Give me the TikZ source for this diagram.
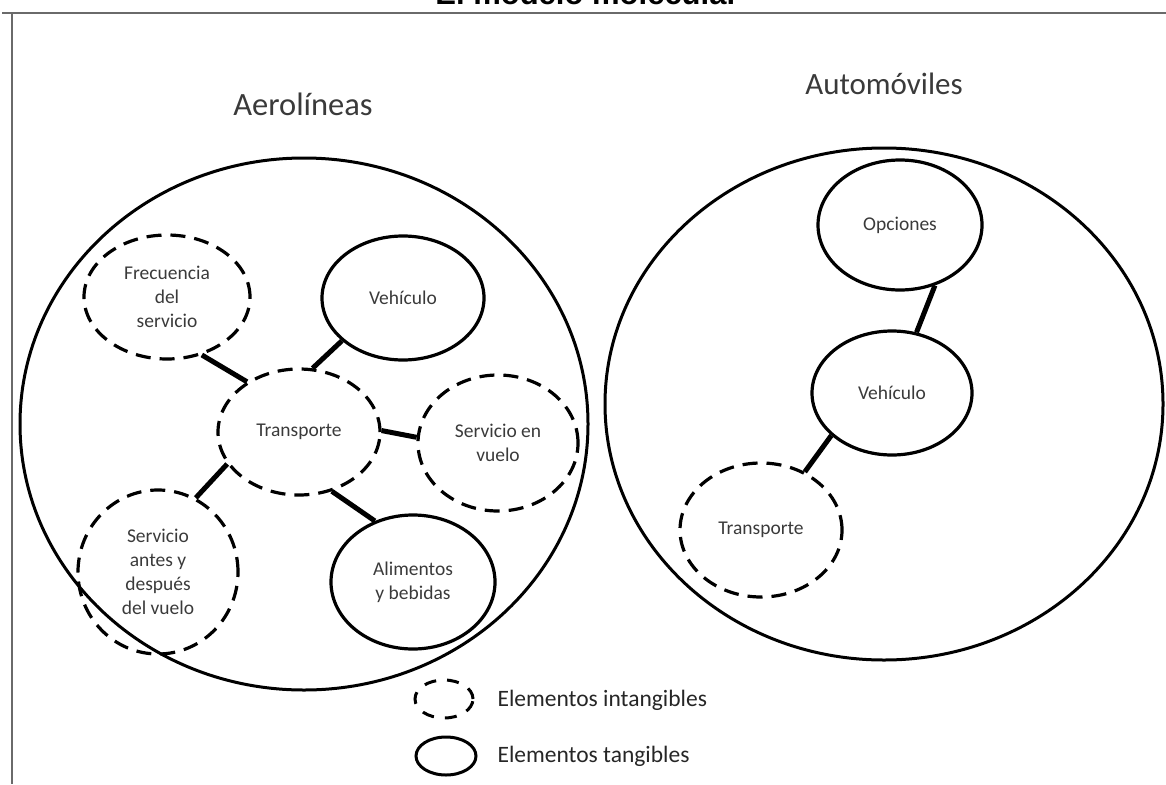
\documentclass[tikz,border=0pt]{standalone}
\usepackage{fontspec}
\setmainfont{Carlito}
\newfontfamily\titlefont{Liberation Sans}
\usetikzlibrary{shapes.geometric}
\definecolor{txtgray}{HTML}{3A3A3A}
\definecolor{framegray}{HTML}{6A6A6A}
\begin{document}
\begin{tikzpicture}[x=1pt,y=-1pt,
  bigcircle/.style={draw, ellipse, line width=3pt, inner sep=0pt},
  tang/.style={draw, ellipse, line width=3.2pt, inner sep=0pt, align=center,
    text=txtgray, font=\fontsize{19.5}{24}\selectfont},
  intang/.style={tang, dash pattern=on 15pt off 9pt},
  link/.style={line width=5pt},
  grouplabel/.style={text=txtgray, font=\fontsize{31}{36}\selectfont},
  legendtext/.style={text=black!85, font=\fontsize{23.5}{28}\selectfont, anchor=west},
  framel/.style={draw=framegray, line width=2pt}
]
\useasboundingbox (0,0) rectangle (1166,784);
\clip (0,0) rectangle (1166,784);
% title (cut off at top)
\node[anchor=base, font=\titlefont\bfseries\fontsize{31}{36}\selectfont] (title) at (587,5) {El modelo molecular};
% frame
\coordinate (fTL) at (11.5,13);
\coordinate (fL) at (2,13);
\coordinate (fR) at (1166,13);
\coordinate (fB) at (11.5,784);
\draw[framel] (fL) -- (fR);
\draw[framel] (fTL) -- (fB);

% big circles
\node[bigcircle, minimum width=568pt, minimum height=532pt] (air) at (304,424) {};
\node[bigcircle, minimum width=558pt, minimum height=512pt] (car) at (884,404) {};
\node[grouplabel, font=\fontsize{32.5}{36}\selectfont] (airlab) at (303,104) {Aerolíneas};
\node[grouplabel] (carlab) at (884,84) {Automóviles};

% airline elements
\node[intang, minimum width=166pt, minimum height=124pt] (frec) at (167,297) {Frecuencia\\del\\servicio};
\node[tang, minimum width=162pt, minimum height=124pt] (veh) at (403,298) {Vehículo};
\node[intang, minimum width=162pt, minimum height=126pt] (trans) at (299,432) {Transporte};
\node[intang, minimum width=160pt, minimum height=136pt] (vuelo) at (498,443) {Servicio en\\vuelo};
\node[intang, minimum width=160pt, minimum height=164pt] (antes) at (158,572) {Servicio\\antes y\\después\\del vuelo};
\node[tang, minimum width=164pt, minimum height=134pt] (alim) at (413,582) {Alimentos\\y bebidas};

\draw[link] (frec.-59.5) -- (trans.136);
\draw[link] (veh.215) -- (trans.78);
\draw[link] (trans.1) -- (vuelo.176);
\draw[link] (trans.204) -- (antes.63);
\draw[link] (trans.-61) -- (alim.122);

% car elements
\node[tang, minimum width=164pt, minimum height=130pt] (opc) at (900,225) {Opciones};
\node[tang, minimum width=160pt, minimum height=124pt] (veh2) at (892,393) {Vehículo};
\node[intang, minimum width=162pt, minimum height=134pt] (trans2) at (761,530) {Transporte};

\draw[link] (opc.-60.6) -- (veh2.68);
\draw[link] (veh2.215) -- (trans2.53);

% legend
\node[draw, ellipse, line width=3pt, dash pattern=on 12pt off 11pt, minimum width=58pt, minimum height=38pt, inner sep=0pt] (legi) at (444,699) {};
\node[draw, ellipse, line width=3pt, minimum width=60pt, minimum height=38pt, inner sep=0pt] (legt) at (446,756) {};
\node[legendtext] (legitxt) at (494,700) {Elementos intangibles};
\node[legendtext] (legttxt) at (494,756) {Elementos tangibles};
\end{tikzpicture}
\end{document}
